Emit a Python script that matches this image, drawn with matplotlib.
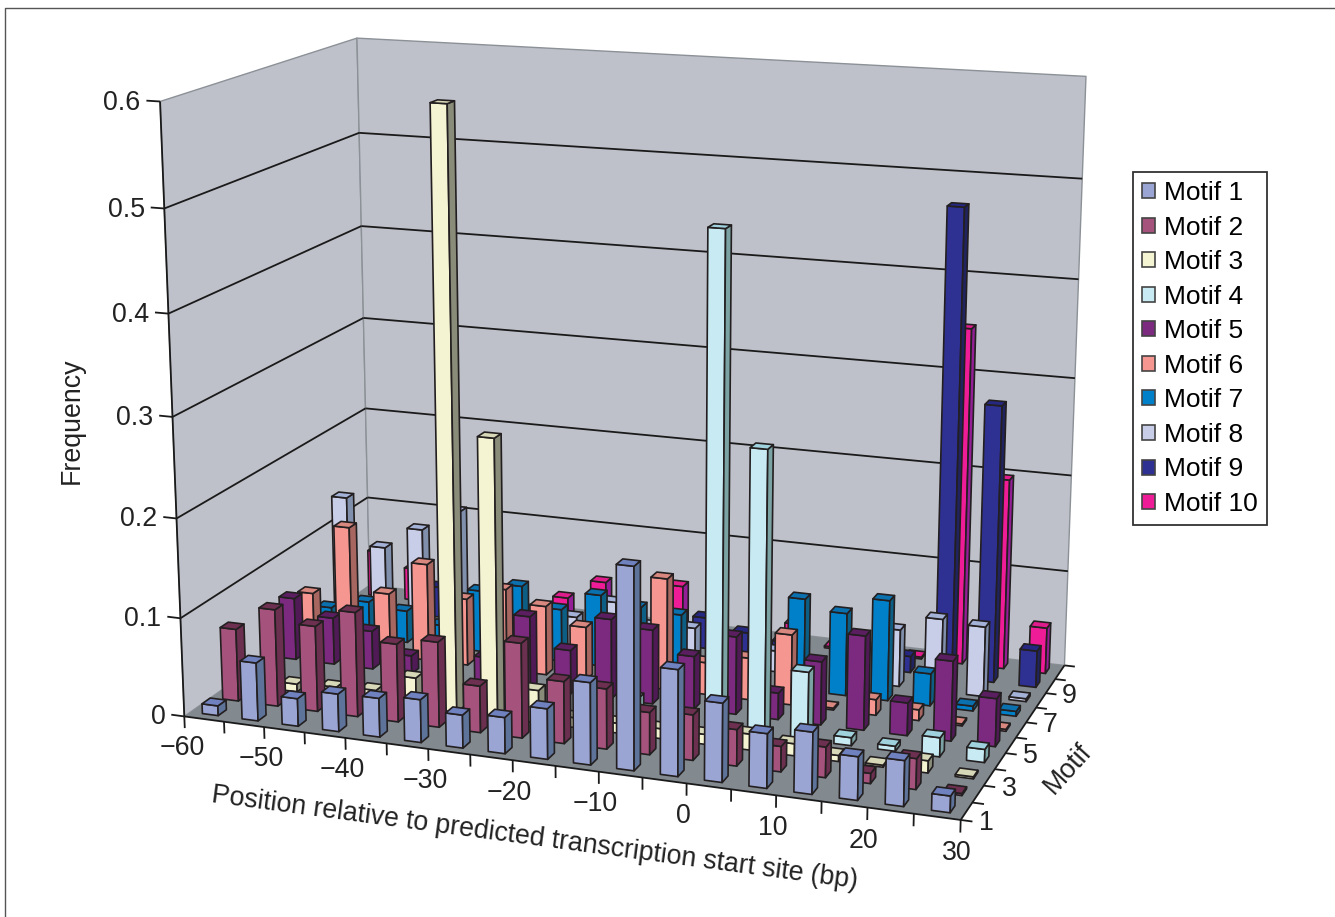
import numpy as np
import matplotlib
matplotlib.use('Agg')
import matplotlib.pyplot as plt
from matplotlib.patches import Patch
from matplotlib.lines import Line2D
from mpl_toolkits.mplot3d import proj3d
from mpl_toolkits.mplot3d.art3d import Poly3DCollection, Line3DCollection

plt.rcParams['font.family'] = ['Liberation Sans', 'DejaVu Sans']

W, H = 1335, 917

# frequency per 5 bp bin, -60 to 30
motif1 = [.010, .059, .028, .038, .039, .043, .033, .036, .050, .081, .198, .104, .077, .053, .060, .042, .044, .016]
motif2 = [.074, .099, .087, .106, .079, .086, .047, .095, .062, .060, .042, .045, .036, .025, .030, .010, .030, .002]
motif3 = [0, .008, .010, .012, .030, .596, .280, .033, .010, .010, .010, .010, .016, .012, .006, .002, .012, .002]
motif4 = [0, 0, 0, 0, 0, .005, 0, 0, 0, .020, 0, .488, .282, .068, .008, .005, .019, .013]
motif5 = [.065, .049, .040, .019, 0, .027, .075, .045, .082, .076, .054, .079, .027, .064, .095, .033, .080, .048]
motif6 = [.057, .132, .066, .102, .070, .085, .072, .055, 0, .115, .033, .043, .072, .002, .016, .011, .002, .002]
motif7 = [.028, .039, .034, .023, .065, .075, .055, .075, .067, .064, 0, 0, .095, .085, .103, .033, .005, .005]
motif8 = [.135, .085, .109, .133, 0, 0, .033, .054, .033, .036, 0, .022, 0, 0, .059, .075, .072, .003]
motif9 = [0, 0, .033, 0, 0, 0, 0, 0, 0, .033, .022, .017, 0, 0, .017, .479, .285, .038]
motif10 = [.050, .035, 0, 0, 0, .022, .044, 0, .049, 0, 0, .022, .002, 0, .002, .349, .198, .048]
motifs = [motif1, motif2, motif3, motif4, motif5, motif6, motif7, motif8, motif9, motif10]

legend_labels = ['Motif %d' % (i + 1) for i in range(10)]
x_tick_labels = ['\u221260', '\u221250', '\u221240', '\u221230', '\u221220', '\u221210', '0', '10', '20', '30']
y_tick_labels = ['1', '3', '5', '7', '9']
z_ticks = [0, .1, .2, .3, .4, .5, .6]
z_tick_labels = ['0', '0.1', '0.2', '0.3', '0.4', '0.5', '0.6']

front_colors = ['#9AA5D3', '#A5527C', '#F5F4D2', '#C8EAF3', '#7C2A80', '#F59690', '#0080C8', '#C8CDE8', '#2E3092', '#EE1C96']
side_colors = ['#5E7399', '#6B2F4F', '#8A8C7A', '#7BA3A3', '#4F1A55', '#A86660', '#0D5E85', '#8090AC', '#20235F', '#931E96']
top_colors = ['#6F82BF', '#6D3050', '#D7D8B8', '#A0D2DE', '#5B1E60', '#D98880', '#0B70AE', '#A5B2D8', '#252780', '#E01C8C']

n_x, n_y, z_max = 18, 10, 0.6
bar = 0.4  # excel gap width 150%
text_color = '#222222'

# where the corners of the box sit in the picture, used to fit the camera
corners = [(0, 0, 0), (n_x, 0, 0), (n_x, n_y, 0), (0, n_y, 0), (0, 0, z_max), (0, n_y, z_max), (n_x, n_y, z_max)]
corner_px = [(185, 715), (960, 822), (1065, 663), (369, 587), (160, 101), (357, 38), (1086, 77)]


def fit_camera(pts, px):
    rows = []
    for (x, y, z), (u, v) in zip(pts, px):
        v = H - v
        rows.append([x, y, z, 1, 0, 0, 0, 0, -u * x, -u * y, -u * z, -u])
        rows.append([0, 0, 0, 0, x, y, z, 1, -v * x, -v * y, -v * z, -v])
    p = np.linalg.svd(np.array(rows, dtype=float))[2][-1].reshape(3, 4)
    depth = np.linalg.svd(p)[2][-1]
    return np.array([p[0], p[1], depth, p[2]])


def add_lines(segments, color='#1A1A1A', lw=1.3, zorder=3):
    ax.add_collection3d(Line3DCollection(segments, colors=color, linewidths=lw, zorder=zorder))


def label_at(x, y, z, s, **kw):
    # tick labels are flat text placed at the projected axis position
    u, v, _ = proj3d.proj_transform(x, y, z, M)
    fig.text(u / W, v / H, s, fontsize=19.3, color=text_color, **kw)


fig = plt.figure(figsize=(W / 100, H / 100), dpi=100)
ax = fig.add_axes([0, 0, 1, 1], projection='3d')
M = fit_camera(corners, corner_px)
ax.get_proj = lambda: M
ax.apply_aspect = lambda position=None: None
ax.set_xticks([])
ax.set_yticks([])
ax.set_zticks([])
ax.set_axis_off()
ax.computed_zorder = False
ax.viewLim.intervalx = (0, W)
ax.viewLim.intervaly = (0, H)

wall = '#BEC1C9'
floor = '#838A8F'
ax.add_collection3d(Poly3DCollection([[(0, n_y, 0), (n_x, n_y, 0), (n_x, n_y, z_max), (0, n_y, z_max)],
                                      [(0, 0, 0), (0, n_y, 0), (0, n_y, z_max), (0, 0, z_max)]],
                                     facecolors=wall, edgecolors='#8C9197', linewidths=1.0, zorder=1))
ax.add_collection3d(Poly3DCollection([[(0, 0, 0), (n_x, 0, 0), (n_x, n_y, 0), (0, n_y, 0)]],
                                     facecolors=floor, edgecolors='none', zorder=2))

for z, lab in zip(z_ticks, z_tick_labels):
    if 0 < z < z_max:
        add_lines([[(0, 0, z), (0, n_y, z)], [(0, n_y, z), (n_x, n_y, z)]])
    # tick sticks out to the left
    add_lines([[(0, 0, z), (-0.33, 0, z)]])
    label_at(-0.48, 0, z - .003, lab, ha='right', va='center')

add_lines([[(0, 0, 0), (0, 0, z_max)], [(0, 0, 0), (n_x, 0, 0)], [(n_x, 0, 0), (n_x, n_y, 0)]])

# bars, painted back to front and left to right
z_order = 5
for j in range(n_y - 1, -1, -1):
    for i, val in enumerate(motifs[j]):
        if val <= 0:
            continue
        x0, x1 = i + .5 - bar / 2, i + .5 + bar / 2
        y0, y1 = j + .5 - bar / 2, j + .5 + bar / 2
        faces = [[(x0, y0, 0), (x1, y0, 0), (x1, y0, val), (x0, y0, val)],
                 [(x1, y0, 0), (x1, y1, 0), (x1, y1, val), (x1, y0, val)],
                 [(x0, y0, val), (x1, y0, val), (x1, y1, val), (x0, y1, val)]]
        ax.add_collection3d(Poly3DCollection(faces, facecolors=[front_colors[j], side_colors[j], top_colors[j]],
                                             edgecolors='#231F20', linewidths=1.2, zorder=z_order))
        z_order += 1

add_lines([[(i, 0, 0), (i, 0, -0.012)] for i in range(n_x + 1)])
for k, lab in enumerate(x_tick_labels):
    label_at(2 * k - 0.08, 0, -0.02, lab, ha='center', va='top')

add_lines([[(n_x, j, 0), (n_x + 0.25, j, 0)] for j in range(n_y + 1)])
for k, lab in enumerate(y_tick_labels):
    label_at(n_x + 0.55, 2 * k, 0, lab, ha='center', va='center')

fig.text(72 / W, 1 - 421 / H, 'Frequency', rotation=90, ha='center', va='center', fontsize=19.3, color=text_color)
fig.text(535 / W, 1 - 838 / H, 'Position relative to predicted transcription start site (bp)',
         rotation=-7.6, rotation_mode='anchor', ha='center', va='center', fontsize=19.3, color=text_color)
fig.text(1068 / W, 1 - 769 / H, 'Motif', rotation=48, rotation_mode='anchor', ha='center', va='center',
         fontsize=19.3, color=text_color)

handles = [Patch(facecolor=c, edgecolor='#444444', lw=1.2) for c in front_colors]
leg = fig.legend(handles, legend_labels, loc='upper left', bbox_to_anchor=(1133 / W, 1 - 172 / H),
                 fontsize=19, handlelength=0.5, handleheight=0.5, handletextpad=0.33, labelspacing=0.40,
                 borderpad=0.34, borderaxespad=0, fancybox=False, framealpha=1, edgecolor='#333333')
leg.get_frame().set_linewidth(1.3)

# thin frame round the figure panel
fig.add_artist(Line2D([5 / W, 5 / W, 1], [0, 1 - 8 / H, 1 - 8 / H], color='#555555', lw=1.0))

fig.savefig('out.png', dpi=100)
